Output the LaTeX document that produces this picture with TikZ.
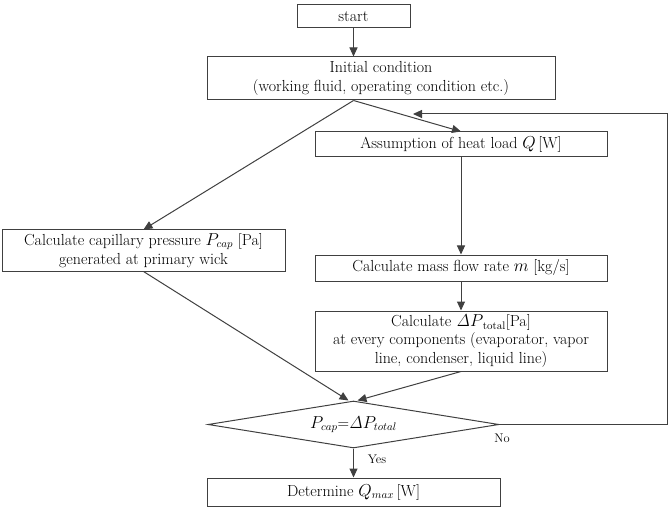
\documentclass[tikz,border=0pt]{standalone}
\usetikzlibrary{shapes.geometric,arrows.meta,calc}
\begin{document}
\begin{tikzpicture}[x=1pt,y=-1pt,
  every node/.style={font=\fontsize{16}{19}\selectfont, text=black},
  box/.style={draw=black!75, line width=1pt, rectangle, inner sep=0pt, align=center},
  conn/.style={draw=black!75, line width=1pt, -{Triangle[length=9pt,width=8pt]}},
  lbl/.style={font=\fontsize{12.5}{15}\selectfont}]
\useasboundingbox (0,0) rectangle (672,513);
\node[box, minimum width=113pt, minimum height=23pt] (start) at (353.5,16.5) {start};
\node[box, minimum width=348pt, minimum height=43pt] (init) at (381,78.5) {Initial condition\\(working fluid, operating condition etc.)};
\node[box, minimum width=292pt, minimum height=25pt] (assum) at (461,144.5) {Assumption of heat load $Q$\,[W]};
\node[box, minimum width=283pt, minimum height=41pt] (cap) at (143.5,250.5) {Calculate capillary pressure $P_{cap}$ [Pa]\\generated at primary wick};
\node[box, minimum width=292pt, minimum height=26pt] (mass) at (461,268) {Calculate mass flow rate $m$ [kg/s]};
\node[box, minimum width=292pt, minimum height=60pt, font=\fontsize{16}{18.5}\selectfont] (dp) at (461,341) {Calculate $\mathit{\Delta}P_{\,\mathrm{total}}$[Pa]\\at every components (evaporator, vapor\\line, condenser, liquid line)};
\node[draw=black!75, line width=1pt, diamond, aspect=6.2, inner sep=0pt, minimum width=291pt, minimum height=47pt] (dia) at (353.5,424.5) {$P_{cap}$=$\mathit{\Delta}P_{total}$};
\node[box, minimum width=293pt, minimum height=28pt] (det) at (353.5,492) {Determine $Q_{max}$\,[W]};
\coordinate (split) at (start.south |- init.south);
\coordinate (fb) at (413,114);
\coordinate (fbc) at (667,114);
\draw[conn] (start.south) -- (start.south |- init.north);
\draw[conn] (split) -- (assum.north);
\draw[conn] (split) -- (cap.north);
\draw[conn] (assum) -- (mass);
\draw[conn] (mass) -- (dp);
\draw[conn] (cap.south) -- ([xshift=-5pt]dia.north);
\draw[conn] (dp.south) -- ([xshift=4pt]dia.north);
\draw[conn] (dia.east) -- (dia.east -| fbc) -- (fbc) -- (fb);
\draw[conn] (dia.south) -- (det.north);
\node[lbl] (no) at (502,438) {No};
\node[lbl] (yes) at (377,459) {Yes};
\end{tikzpicture}
\end{document}
